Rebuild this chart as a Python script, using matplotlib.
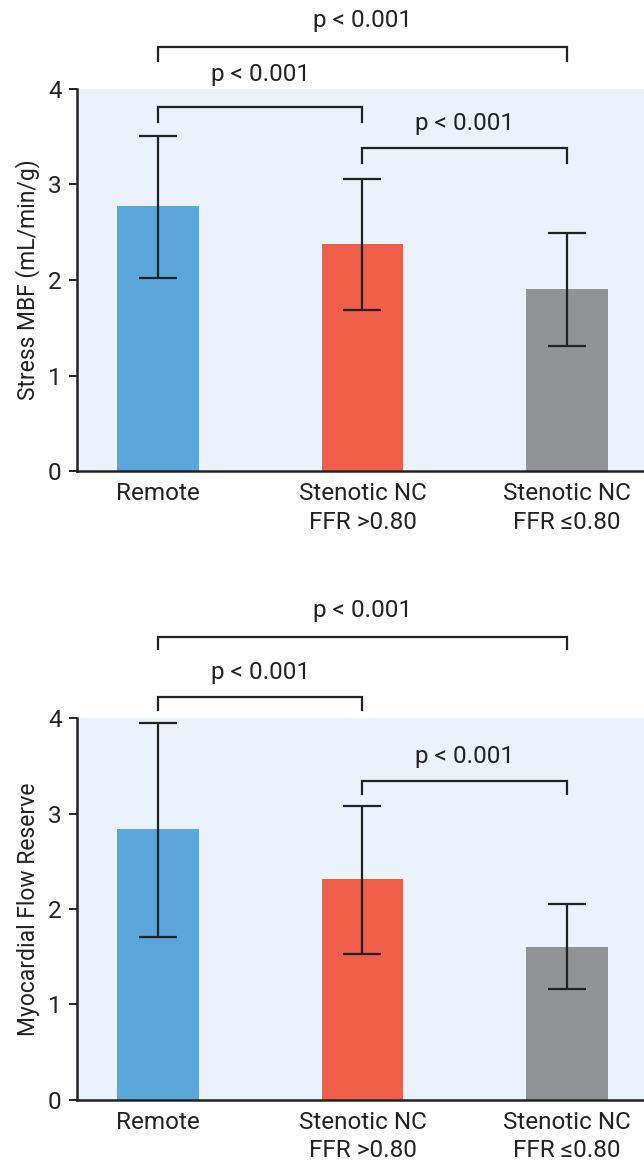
import matplotlib.pyplot as plt
import numpy as np

#---DATA---
groups = ['Remote', 'Stenotic NC\nFFR >0.80', 'Stenotic NC\nFFR \u22640.80']
bar_colors = ['#5BA6DA', '#EF5E49', '#929396']

mbf_mean = [2.77, 2.38, 1.91]
mbf_low = [2.02, 1.69, 1.31]
mbf_high = [3.51, 3.06, 2.49]

mfr_mean = [2.84, 2.31, 1.60]
mfr_low = [1.71, 1.53, 1.16]
mfr_high = [3.95, 3.08, 2.05]

p_label = 'p < 0.001'
# (from group, to group, bracket height, leg bottom, text y)
mbf_brackets = [(0, 2, 4.44, 4.29, 4.72), (0, 1, 3.81, 3.65, 4.15), (1, 2, 3.38, 3.23, 3.64)]
mfr_brackets = [(0, 2, 4.85, 4.72, 5.13), (0, 1, 4.22, 4.08, 4.48), (1, 2, 3.34, 3.20, 3.60)]

#---STYLE---
plt.rcParams['font.family'] = ['Roboto', 'DejaVu Sans']
dark = '#222222'
bg = '#EBF2FB'
fs = 17.5

fig = plt.figure(figsize=(6.44, 11.63), dpi=100)
ax_top = fig.add_axes([0.1196, 0.595, 0.8804, 0.3285])
ax_bot = fig.add_axes([0.1196, 0.0542, 0.8804, 0.3284])


def draw_panel(ax, mean, low, high, ylabel, brackets):
    x = np.arange(len(groups))
    mean = np.array(mean)
    yerr = [mean - np.array(low), np.array(high) - mean]
    ax.set_facecolor(bg)
    ax.bar(x, mean, width=0.4, color=bar_colors, zorder=2)
    ax.errorbar(x, mean, yerr=yerr, fmt='none', ecolor=dark,
                elinewidth=1.6, capsize=14, capthick=1.6, zorder=3)
    ax.set_xlim(-0.396, 2.377)
    ax.set_ylim(0, 4)
    ax.set_yticks([0, 1, 2, 3, 4])
    ax.set_xticks(x)
    ax.set_xticklabels(groups, fontsize=fs, color=dark, linespacing=1.3)
    ax.tick_params(axis='x', length=0, pad=8)
    ax.tick_params(axis='y', length=6, width=1.4, color=dark, labelsize=fs,
                   labelcolor=dark, pad=5)
    for pos in ['top', 'right']:
        ax.spines[pos].set_visible(False)
    for pos in ['left', 'bottom']:
        ax.spines[pos].set_color(dark)
        ax.spines[pos].set_linewidth(1.8)
        ax.spines[pos].set_zorder(4)
    ax.set_ylabel(ylabel, fontsize=16.5, color=dark, labelpad=6)

    #significance brackets
    for a, b, h, leg, ty in brackets:
        ax.plot([a, a, b, b], [leg, h, h, leg], color=dark, lw=1.6,
                clip_on=False, zorder=5, solid_joinstyle='miter')
        ax.text((a + b) / 2, ty, p_label, ha='center', va='center',
                fontsize=fs, color=dark, clip_on=False)


draw_panel(ax_top, mbf_mean, mbf_low, mbf_high, 'Stress MBF (mL/min/g)', mbf_brackets)
draw_panel(ax_bot, mfr_mean, mfr_low, mfr_high, 'Myocardial Flow Reserve', mfr_brackets)

plt.savefig('out.png', dpi=100)
